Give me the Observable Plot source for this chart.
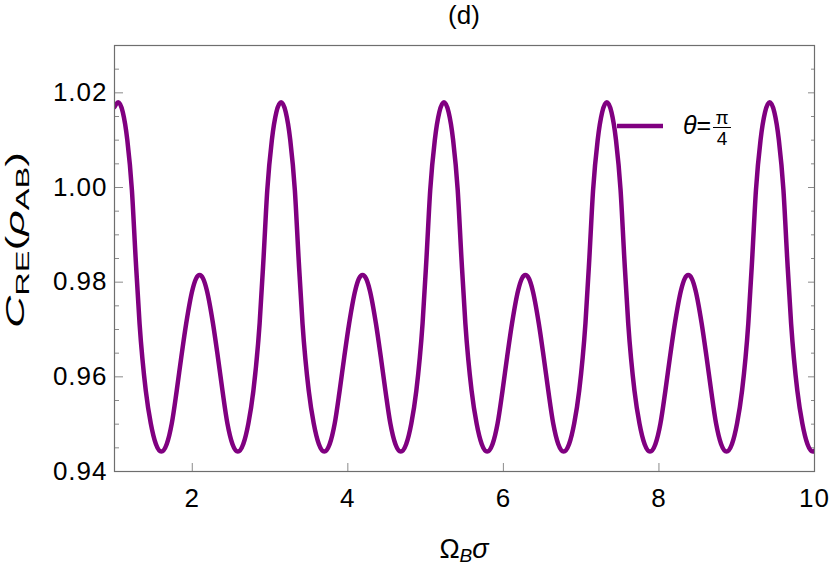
<!DOCTYPE html>
<html>
<head>
<meta charset="utf-8">
<script src="https://cdn.jsdelivr.net/npm/d3@7"></script>
<script src="https://cdn.jsdelivr.net/npm/@observablehq/plot@0.6"></script>
<style>
  html, body { margin: 0; padding: 0; background: #fff; }
  #chart svg { display: block; }
</style>
</head>
<body>
<div id="chart"></div>
<script>
// Values (Ω_B σ, C_RE(ρ_AB))
const omega = [
  1.000,1.047,1.107,1.165,1.224,1.271,1.322,1.402,1.467,1.532,1.602,1.672,1.736,1.800,1.859,1.922,2.001,2.047,2.094,2.141,2.187,2.266,2.329,2.388,2.452,2.516,2.586,2.656,2.721,2.786,2.866,2.917,2.964,3.023,3.081,3.142,
  3.202,3.260,3.319,3.366,3.417,3.497,3.562,3.627,3.697,3.767,3.831,3.895,3.954,4.017,4.096,4.142,4.189,4.236,4.282,4.361,4.424,4.483,4.547,4.611,4.681,4.751,4.816,4.881,4.961,5.012,5.059,5.118,5.176,5.236,
  5.296,5.354,5.413,5.460,5.511,5.591,5.656,5.721,5.791,5.861,5.925,5.989,6.048,6.111,6.190,6.236,6.283,6.330,6.376,6.455,6.518,6.577,6.641,6.705,6.775,6.845,6.910,6.975,7.055,7.106,7.153,7.212,7.270,7.330,
  7.390,7.448,7.507,7.554,7.605,7.685,7.750,7.815,7.885,7.955,8.019,8.083,8.142,8.205,8.284,8.330,8.377,8.424,8.470,8.549,8.612,8.671,8.735,8.799,8.869,8.939,9.004,9.069,9.149,9.200,9.247,9.306,9.364,9.424,
  9.484,9.542,9.601,9.648,9.699,9.779,9.844,9.909,9.979,10.000
];
const cre = [
  1.0170,1.0180,1.0159,1.0100,0.9994,0.9853,0.9713,0.9571,0.9501,0.9458,0.9442,0.9458,0.9501,0.9571,0.9642,0.9713,0.9783,0.9807,0.9815,0.9807,0.9783,0.9713,0.9642,0.9571,0.9501,0.9458,0.9442,0.9458,0.9501,0.9571,0.9713,0.9853,0.9994,1.0100,1.0159,1.0180,
  1.0159,1.0100,0.9994,0.9853,0.9713,0.9571,0.9501,0.9458,0.9442,0.9458,0.9501,0.9571,0.9642,0.9713,0.9783,0.9807,0.9815,0.9807,0.9783,0.9713,0.9642,0.9571,0.9501,0.9458,0.9442,0.9458,0.9501,0.9571,0.9713,0.9853,0.9994,1.0100,1.0159,1.0180,
  1.0159,1.0100,0.9994,0.9853,0.9713,0.9571,0.9501,0.9458,0.9442,0.9458,0.9501,0.9571,0.9642,0.9713,0.9783,0.9807,0.9815,0.9807,0.9783,0.9713,0.9642,0.9571,0.9501,0.9458,0.9442,0.9458,0.9501,0.9571,0.9713,0.9853,0.9994,1.0100,1.0159,1.0180,
  1.0159,1.0100,0.9994,0.9853,0.9713,0.9571,0.9501,0.9458,0.9442,0.9458,0.9501,0.9571,0.9642,0.9713,0.9783,0.9807,0.9815,0.9807,0.9783,0.9713,0.9642,0.9571,0.9501,0.9458,0.9442,0.9458,0.9501,0.9571,0.9713,0.9853,0.9994,1.0100,1.0159,1.0180,
  1.0159,1.0100,0.9994,0.9853,0.9713,0.9571,0.9501,0.9458,0.9442,0.9444
];
const xTicks = [2, 4, 6, 8, 10];
const yTicks = [0.94, 0.96, 0.98, 1.00, 1.02];
const yMinorTicks = [0.945,0.95,0.955,0.965,0.97,0.975,0.985,0.99,0.995,1.005,1.01,1.015,1.025];
const xDomain = [1, 10];
const yDomain = [0.94, 1.03];
const panelTitle = "(d)";
const seriesLabel = "θ=π/4";

const data = omega.map((x, i) => ({x, y: cre[i]}));

const FONT = "'Liberation Sans', Arial, sans-serif";
const FRAME = "#6e6e6e";
const TICK = "#8a8a8a";
const PURPLE = "#800080";

const svg = Plot.plot({
  width: 830,
  height: 567,
  marginLeft: 114,
  marginRight: 16,
  marginTop: 45,
  marginBottom: 96,
  style: {fontFamily: FONT, fontSize: "26px", background: "white", overflow: "visible"},
  x: {domain: xDomain, axis: null},
  y: {domain: yDomain, axis: null},
  marks: [
    // inward ticks
    Plot.axisY(yTicks, {anchor: "left", tickSize: 9, dx: 9, text: null, label: null, stroke: TICK}),
    Plot.axisY(yMinorTicks, {anchor: "left", tickSize: 5, dx: 5, text: null, label: null, stroke: TICK}),
    Plot.axisY(yTicks, {anchor: "right", tickSize: 7, dx: -7, text: null, label: null, stroke: TICK}),
    Plot.axisY(yMinorTicks, {anchor: "right", tickSize: 4, dx: -4, text: null, label: null, stroke: TICK}),
    Plot.axisX(xTicks, {anchor: "bottom", tickSize: 8, dy: -8, text: null, label: null, stroke: TICK}),
    // tick labels
    Plot.axisY(yTicks, {anchor: "left", tickSize: 0, tickPadding: 7, label: null, tickFormat: d3.format(".2f"), fontSize: 26, fill: "black"}),
    Plot.axisX(xTicks, {anchor: "bottom", tickSize: 0, tickPadding: 17, label: null, tickFormat: d3.format("d"), fontSize: 26, fill: "black"}),
    Plot.line(data, {x: "x", y: "y", stroke: PURPLE, strokeWidth: 4.5, curve: "monotone-x", clip: true}),
    Plot.frame({stroke: FRAME, strokeWidth: 1.2})
  ]
});

const s = d3.select(svg);
s.selectAll("g[aria-label='y-axis tick label'], g[aria-label='x-axis tick label']")
  .attr("font-size", 26).attr("letter-spacing", "1px");
s.selectAll("g[aria-label='y-axis tick label'] text, g[aria-label='x-axis tick label'] text")
  .attr("font-size", 26).attr("letter-spacing", "1px").attr("fill", "black");

// title
s.append("text").attr("x", 464).attr("y", 24).attr("text-anchor", "middle")
  .attr("font-family", FONT).attr("font-size", 26).attr("fill", "black").text(panelTitle);

// y label: C_RE(ρ_AB)
const yl = s.append("text").attr("transform", "translate(24,240) rotate(-90)")
  .attr("text-anchor", "middle").attr("font-family", FONT).attr("font-size", 26).attr("fill", "black")
  .attr("textLength", 176).attr("lengthAdjust", "spacingAndGlyphs");
yl.append("tspan").attr("font-style", "italic").text("C");
yl.append("tspan").attr("font-size", 19).attr("dy", 5).text("RE");
yl.append("tspan").attr("dy", -5).text("(");
yl.append("tspan").attr("font-style", "italic").text("ρ");
yl.append("tspan").attr("font-size", 19).attr("dy", 5).text("AB");
yl.append("tspan").attr("dy", -5).text(")");

// x label: Ω_B σ
const xl = s.append("text").attr("x", 464).attr("y", 558).attr("text-anchor", "middle")
  .attr("font-family", FONT).attr("font-size", 27).attr("fill", "black");
xl.append("tspan").text("Ω");
xl.append("tspan").attr("font-style", "italic").attr("font-size", 19).attr("dy", 4).text("B");
xl.append("tspan").attr("font-style", "italic").attr("dy", -4).text("σ");

// legend
const lg = s.append("g").attr("font-family", FONT).attr("fill", "black").attr("text-anchor", "start");
lg.append("line").attr("x1", 617).attr("x2", 663).attr("y1", 126).attr("y2", 126)
  .attr("stroke", PURPLE).attr("stroke-width", 4.5);
const [lhs, frac] = seriesLabel.split("=");
const [num, den] = frac.split("/");
lg.append("text").attr("x", 683).attr("y", 134).attr("font-size", 25).attr("text-anchor", "start")
  .call(t => { t.append("tspan").attr("font-style", "italic").text(lhs); t.append("tspan").text("="); });
lg.append("text").attr("x", 722).attr("y", 124).attr("font-size", 19).attr("text-anchor", "middle").text(num);
lg.append("line").attr("x1", 713).attr("x2", 731).attr("y1", 127.5).attr("y2", 127.5).attr("stroke", "black").attr("stroke-width", 1);
lg.append("text").attr("x", 722).attr("y", 145).attr("font-size", 19).attr("text-anchor", "middle").text(den);

document.getElementById("chart").appendChild(svg);
</script>
</body>
</html>
